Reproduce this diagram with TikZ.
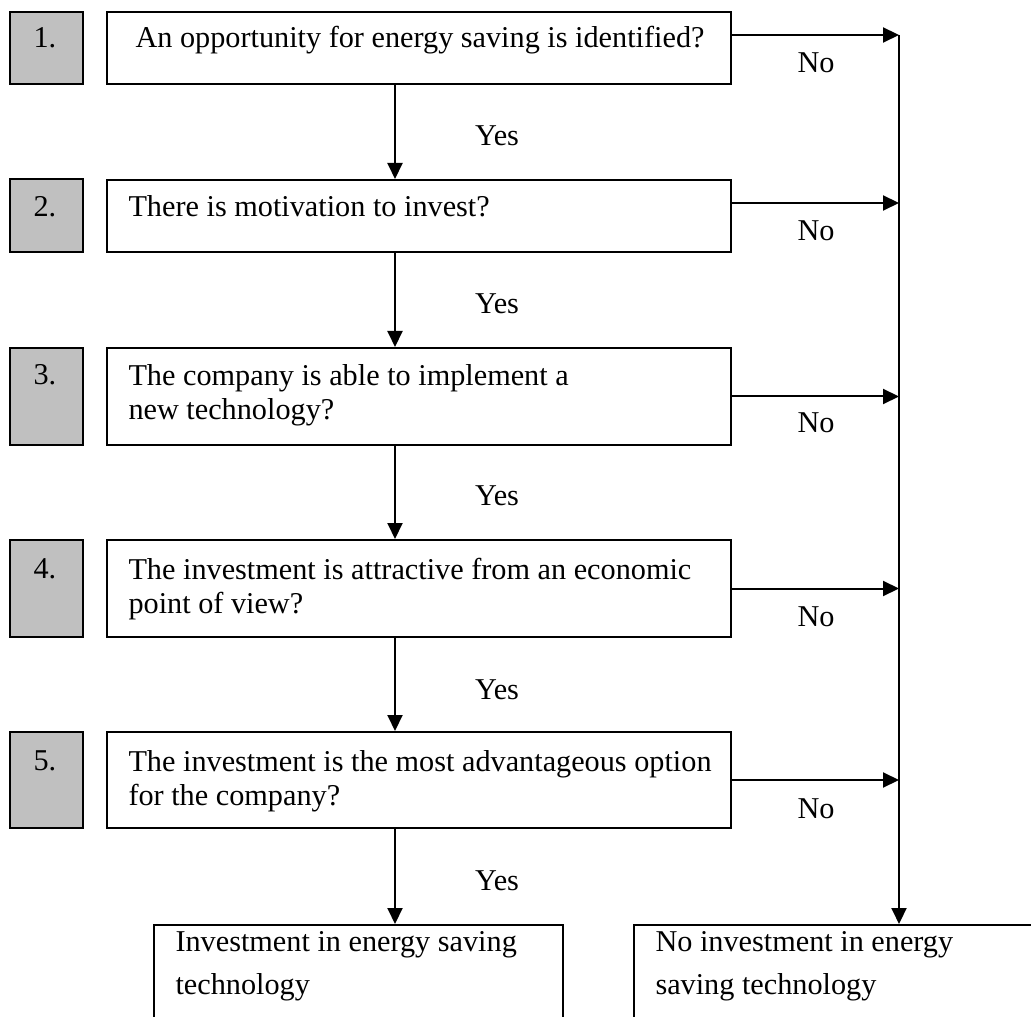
\documentclass[tikz,border=0pt]{standalone}
\usepackage{fontspec}
\setmainfont{Liberation Serif}
\usetikzlibrary{arrows.meta,fit,calc}

\begin{document}
\begin{tikzpicture}[x=0.4pt,y=-0.4pt,
  frame/.style={draw, line width=0.8pt, rectangle, inner sep=0pt},
  numbox/.style={frame, fill=numgray},
  txt/.style={inner sep=0pt, anchor=base west, font=\fontsize{12.1pt}{13.6pt}\selectfont},
  lbl/.style={inner sep=0pt, anchor=base, font=\fontsize{12.1pt}{13.6pt}\selectfont},
  arr/.style={line width=0.8pt, -{Triangle[length=6.4pt,width=6pt]}}]
\definecolor{numgray}{HTML}{C0C0C0}

\useasboundingbox (0,0) rectangle (1031,1017);
\clip (0,0) rectangle (1031,1017);

% numbered step markers
\node[numbox, fit={(10,12) (83,84)}]   (g1) {};
\node[numbox, fit={(10,179) (83,252)}] (g2) {};
\node[numbox, fit={(10,348) (83,445)}] (g3) {};
\node[numbox, fit={(10,540) (83,637)}] (g4) {};
\node[numbox, fit={(10,732) (83,828)}] (g5) {};

% question boxes
\node[frame, fit={(107,12) (731,84)}]   (q1) {};
\node[frame, fit={(107,180) (731,252)}] (q2) {};
\node[frame, fit={(107,348) (731,445)}] (q3) {};
\node[frame, fit={(107,540) (731,637)}] (q4) {};
\node[frame, fit={(107,732) (731,828)}] (q5) {};

% outcome boxes (run past the lower edge)
\node[frame, fit={(154,925) (563,1040)}]  (yesout) {};
\node[frame, fit={(634,925) (1043,1040)}] (noout) {};

% step numbers
\node[txt] (n1) at (33,48)  {1.};
\node[txt] (n2) at (33,217) {2.};
\node[txt] (n3) at (33,385) {3.};
\node[txt] (n4) at (33,578) {4.};
\node[txt] (n5) at (33,770) {5.};

% questions
\node[txt] (t1)  at (135,48)  {An opportunity for energy saving is identified?};
\node[txt] (t2)  at (128,217) {There is motivation to invest?};
\node[txt] (t3a) at (128,386) {The company is able to implement a};
\node[txt] (t3b) at (128,420) {new technology?};
\node[txt] (t4a) at (128,579) {The investment is attractive from an economic};
\node[txt] (t4b) at (128,613) {point of view?};
\node[txt] (t5a) at (128,771) {The investment is the most advantageous option};
\node[txt] (t5b) at (128,805) {for the company?};

% outcomes
\node[txt] (o1a) at (175,951) {Investment in energy saving};
\node[txt] (o1b) at (175,994) {technology};
\node[txt] (o2a) at (655,951) {No investment in energy};
\node[txt] (o2b) at (655,994) {saving technology};

% guide lines for the two arrow columns
\coordinate (spine) at (395,0);
\coordinate (rail)  at (899,0);

% "Yes" path down the middle
\draw[arr] (q1.south -| spine) -- (q2.north -| spine);
\draw[arr] (q2.south -| spine) -- (q3.north -| spine);
\draw[arr] (q3.south -| spine) -- (q4.north -| spine);
\draw[arr] (q4.south -| spine) -- (q5.north -| spine);
\draw[arr] (q5.south -| spine) -- (yesout.north -| spine);

\node[lbl] (y1) at (497,146) {Yes};
\node[lbl] (y2) at (497,314) {Yes};
\node[lbl] (y3) at (497,506) {Yes};
\node[lbl] (y4) at (497,699) {Yes};
\node[lbl] (y5) at (497,890) {Yes};

% "No" branches to the rail
\coordinate (b1) at ($(q1.north east)+(0,24)$);
\coordinate (b2) at ($(q2.north east)+(0,24)$);
\coordinate (b3) at (q3.east);
\coordinate (b4) at (q4.east);
\coordinate (b5) at (q5.east);
\draw[arr] (b1) -- (b1 -| rail);
\draw[arr] (b2) -- (b2 -| rail);
\draw[arr] (b3) -- (b3 -| rail);
\draw[arr] (b4) -- (b4 -| rail);
\draw[arr] (b5) -- (b5 -| rail);
\draw[arr] (b1 -| rail) -- (noout.north -| rail);

\node[lbl] (x1) at (816,73)  {No};
\node[lbl] (x2) at (816,241) {No};
\node[lbl] (x3) at (816,433) {No};
\node[lbl] (x4) at (816,626) {No};
\node[lbl] (x5) at (816,818) {No};
\end{tikzpicture}
\end{document}
